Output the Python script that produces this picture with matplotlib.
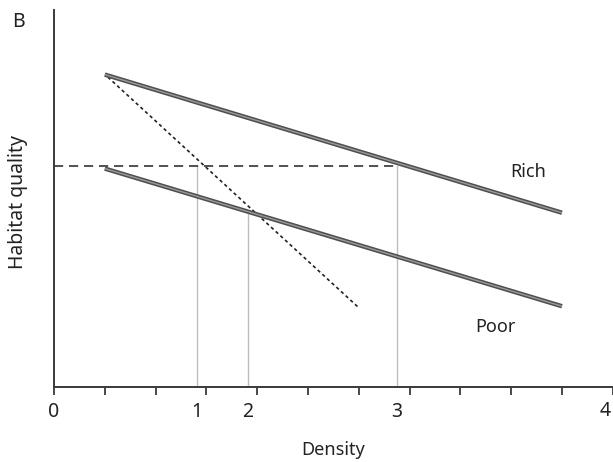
import matplotlib
matplotlib.use("Agg")
import matplotlib.pyplot as plt
import matplotlib.patheffects as pe
import numpy as np

plt.rcParams['font.family'] = ['Noto Sans', 'DejaVu Sans']

# Data (density in tick units, habitat quality in arbitrary units)
rich_x = [1.0, 10.0]
rich_y = [6.15, 3.43]
poor_x = [1.0, 10.0]
poor_y = [4.30, 1.59]
iso_x = [1.06, 6.0]
iso_y = [6.10, 1.56]
threshold_y = 4.36
threshold_xmax = 6.75
vline_x = [2.81, 3.81, 6.75]
vline_top = [4.36, 3.42, 4.36]
tick_pos = list(range(0, 12))
label_pos = [0, 2.81, 3.81, 6.75]
label_txt = ['0', '1', '2', '3']
edge_label = '4'

W, H = 613, 462
fig = plt.figure(figsize=(W / 100, H / 100), dpi=100)
fig.patch.set_facecolor('white')
ax = fig.add_axes([54 / W, (H - 387) / H, (W - 54) / W, 377 / H])
ax.set_xlim(0, (W - 54) / 50.8)
ax.set_ylim(0, 377 / 50.8)

# thick double-stroke lines
fx = [pe.Stroke(linewidth=3.2, foreground='#4f4f4f'), pe.Normal()]
ax.plot(rich_x, rich_y, color='#9a9a9a', lw=1.0, solid_capstyle='butt',
        path_effects=fx, zorder=4)
ax.plot(poor_x, poor_y, color='#9a9a9a', lw=1.0, solid_capstyle='butt',
        path_effects=fx, zorder=4)

# dotted line
ax.plot(iso_x, iso_y, color='#222222', lw=1.2, linestyle=(0, (2, 1.8)), zorder=3)

# dashed threshold
ax.plot([0, threshold_xmax], [threshold_y, threshold_y], color='#333333',
        lw=1.2, linestyle=(0, (5.5, 3.5)), zorder=3)

# vertical guide lines
for xv, yt in zip(vline_x, vline_top):
    ax.plot([xv, xv], [0, yt], color='#bdbdbd', lw=1.0, zorder=2)

for s in ['top', 'right']:
    ax.spines[s].set_visible(False)
for s in ['left', 'bottom']:
    ax.spines[s].set_color('#3a3a3a')
    ax.spines[s].set_linewidth(1.4)

ax.set_yticks([])
ax.xaxis.remove_overlapping_locs = False
ax.set_xticks(tick_pos)
ax.set_xticklabels([])
ax.tick_params(axis='x', which='major', direction='out', length=6, width=1.3,
               color='#3a3a3a')
ax.set_xticks(label_pos, minor=True)
ax.set_xticklabels(label_txt, minor=True)
ax.tick_params(axis='x', which='minor', length=0, pad=11, labelsize=14,
               labelcolor='#222222')

# right-edge label (cut off in the original), kept inside the canvas
fig.text(1 - 2 / W, 1 - 411 / H, edge_label, fontsize=14, color='#222222',
         ha='right', va='center')

ax.set_xlabel('Density', fontsize=13, fontweight='semibold', color='#222222')
ax.xaxis.set_label_coords(0.5, -(450 - 387) / 377)
ax.xaxis.label.set_verticalalignment('center')
ax.set_ylabel('Habitat quality', fontsize=14, color='#222222')
ax.yaxis.set_label_coords(-(54 - 18) / 559, 0.5 - 4 / 377)
ax.yaxis.label.set_verticalalignment('center')

ax.text(9.33, 4.23, 'Rich', fontsize=13, color='#222222', ha='center', va='center')
ax.text(8.68, 1.18, 'Poor', fontsize=13, color='#222222', ha='center', va='center')

fig.text(18 / W, 1 - 22 / H, 'B', fontsize=14, color='#222222',
         ha='center', va='center')

fig.savefig('out.png', dpi=100, facecolor='white')
